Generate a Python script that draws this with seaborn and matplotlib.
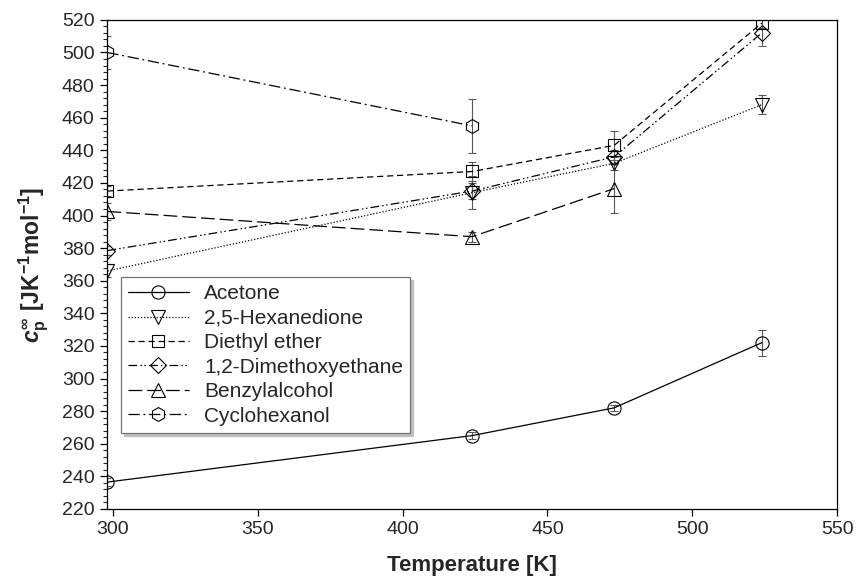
import numpy as np
import pandas as pd
import matplotlib
matplotlib.use("Agg")
import matplotlib.pyplot as plt
from matplotlib.ticker import MultipleLocator
import seaborn as sns

# data
solvents = ["Acetone", "2,5-Hexanedione", "Diethyl ether",
            "1,2-Dimethoxyethane", "Benzylalcohol", "Cyclohexanol"]

temp_4 = [298.15, 424, 473, 524]
temp_3 = [298.15, 424, 473]
temp_2 = [298.15, 424]

acetone = [236.5, 265, 282, 322]
acetone_err = [2.5, 2, 2, 8]
hexanedione = [366, 414, 432, 468]
hexanedione_err = [4, 10, 4, 6]
diethyl_ether = [415, 427, 443, 518]
diethyl_ether_err = [3, 6, 9, 3]
dimethoxyethane = [378.5, 415, 436, 512]
dimethoxyethane_err = [3, 5, 4, 8]
benzylalcohol = [402.5, 387, 416.5]
benzylalcohol_err = [5, 3, 15]
cyclohexanol = [500, 455]
cyclohexanol_err = [10, 16.5]

series = {
    "Acetone": (temp_4, acetone, acetone_err),
    "2,5-Hexanedione": (temp_4, hexanedione, hexanedione_err),
    "Diethyl ether": (temp_4, diethyl_ether, diethyl_ether_err),
    "1,2-Dimethoxyethane": (temp_4, dimethoxyethane, dimethoxyethane_err),
    "Benzylalcohol": (temp_3, benzylalcohol, benzylalcohol_err),
    "Cyclohexanol": (temp_2, cyclohexanol, cyclohexanol_err),
}

styles = {
    "Acetone": ("o", "-"),
    "2,5-Hexanedione": ("v", (0, (1, 1.5))),
    "Diethyl ether": ("s", (0, (5, 3))),
    "1,2-Dimethoxyethane": ("D", (0, (7, 2.5, 1.2, 2, 1.2, 2.5))),
    "Benzylalcohol": ("^", (0, (11, 4))),
    "Cyclohexanol": ("h", (0, (9, 3, 1.5, 3))),
}
marker_size = {"o": 9.5, "v": 9.5, "s": 8.5, "D": 8, "^": 9.5, "h": 10}

sns.set_style("ticks")
plt.rcParams["font.family"] = ["Liberation Sans", "DejaVu Sans"]
plt.rcParams["mathtext.fontset"] = "custom"
plt.rcParams["mathtext.rm"] = "Liberation Sans:bold"
plt.rcParams["mathtext.it"] = "Liberation Sans:italic:bold"
plt.rcParams["mathtext.bf"] = "Liberation Sans:bold"

fig = plt.figure(figsize=(8.56, 5.85), dpi=100)
ax = fig.add_axes([0.125, 0.130, 0.853, 0.836])

for name in solvents:
    t, cp, err = series[name]
    df = pd.DataFrame({"T": t, "Cp": cp})
    mk, ls = styles[name]
    ax.errorbar(t, cp, yerr=err, fmt="none", ecolor="0.35",
                elinewidth=0.8, capsize=3, capthick=0.8, zorder=2)
    sns.lineplot(data=df, x="T", y="Cp", ax=ax, color="black",
                 linestyle=ls, linewidth=0.9, marker=mk,
                 markersize=marker_size[mk], markerfacecolor="none",
                 markeredgecolor="black", markeredgewidth=0.8,
                 label=name, zorder=3)

ax.set_xlim(298, 550)
ax.set_ylim(220, 520)
ax.xaxis.set_major_locator(MultipleLocator(50))
ax.yaxis.set_major_locator(MultipleLocator(20))
ax.yaxis.set_minor_locator(MultipleLocator(4))
ax.tick_params(axis="both", which="major", direction="out", length=5,
               width=0.9, labelsize=14, color="black", pad=4)
ax.tick_params(axis="y", which="minor", direction="out", length=3, width=0.8)
for sp in ax.spines.values():
    sp.set_visible(True)
    sp.set_linewidth(0.9)
    sp.set_color("black")

ax.set_xlabel("Temperature [K]", fontsize=16, fontweight="bold", labelpad=12)
ax.set_ylabel(r"$c_\mathrm{p}^{\mathbf{\infty}}$ [JK$^{-1}$mol$^{-1}$]",
              fontsize=16.5, fontweight="bold", labelpad=8)

leg = ax.legend(loc="upper left", bbox_to_anchor=(0.019, 0.474),
                borderaxespad=0, fontsize=15, frameon=True, fancybox=False,
                handlelength=2.9, handletextpad=0.75, labelspacing=0.26,
                borderpad=0.35,
                shadow={"color": "0.75", "alpha": 1, "ox": 2, "oy": -2})
leg.get_frame().set_edgecolor("0.45")
leg.get_frame().set_linewidth(0.9)

fig.savefig("out.png", dpi=100)
